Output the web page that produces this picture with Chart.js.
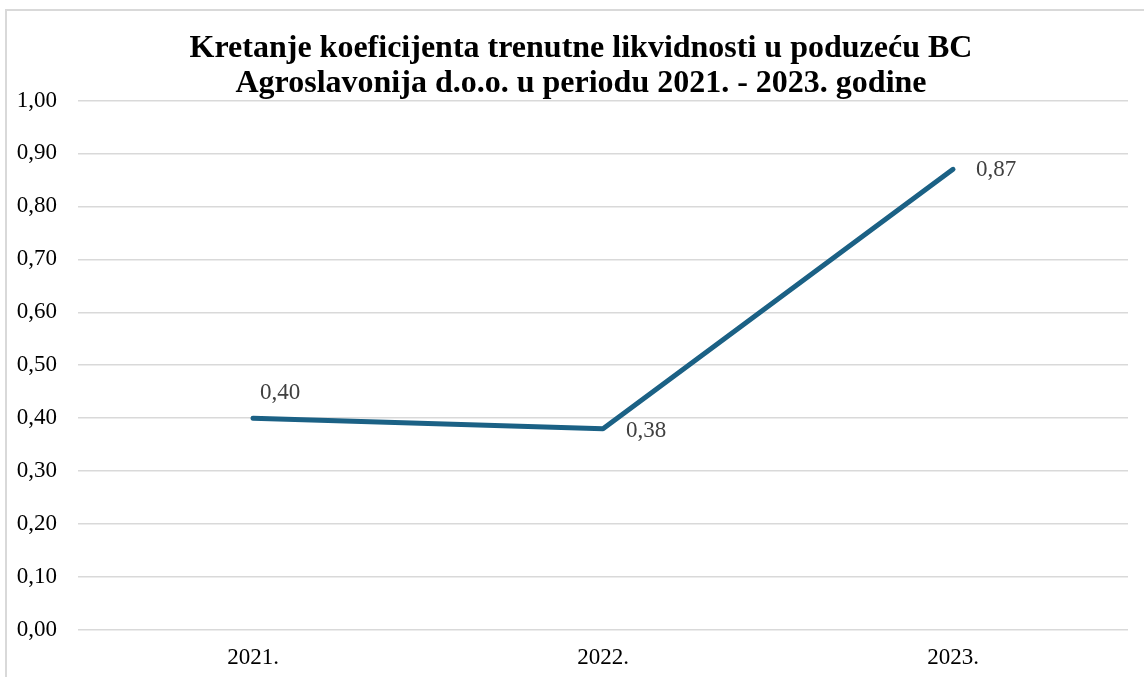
<!DOCTYPE html>
<html>
<head>
<meta charset="utf-8">
<script src="https://cdn.jsdelivr.net/npm/chart.js@4.4.0/dist/chart.umd.min.js"></script>
<style>
  html, body { margin: 0; padding: 0; background: #fff; overflow: hidden; }
  #wrap { position: relative; width: 1144px; height: 677px; overflow: hidden; }
</style>
</head>
<body>
<div id="wrap"><canvas id="myChart" width="1150" height="677"></canvas></div>
<script>
const years = ["2021.", "2022.", "2023."];
const ratio = [0.40, 0.38, 0.87];
const titleLines = [
  "Kretanje koeficijenta trenutne likvidnosti u poduzeću BC",
  "Agroslavonija d.o.o. u periodu 2021. - 2023. godine"
];

function fmt(v) {
  return (Math.round(v * 100) / 100).toFixed(2).replace(".", ",");
}

// where each value label sits relative to its point
const labelSpots = [
  { dx: 7, dy: -25 },
  { dx: 23, dy: 2 },
  { dx: 23, dy: 1 }
];

const serif = "'Liberation Serif', 'Times New Roman', serif";

const frame = {
  id: "frame",
  beforeDraw(chart) {
    const c = chart.ctx;
    c.save();
    c.strokeStyle = "#d9d9d9";
    c.lineWidth = 2;
    c.beginPath();
    c.moveTo(6, 677);
    c.lineTo(6, 10);
    c.lineTo(1150, 10);
    c.stroke();
    c.restore();
  }
};

const valueLabels = {
  id: "valueLabels",
  afterDatasetsDraw(chart) {
    const c = chart.ctx;
    const meta = chart.getDatasetMeta(0);
    c.save();
    c.font = "23px " + serif;
    c.fillStyle = "#404040";
    c.textAlign = "left";
    c.textBaseline = "middle";
    meta.data.forEach((pt, i) => {
      const s = labelSpots[i];
      c.fillText(fmt(ratio[i]), pt.x + s.dx, pt.y + s.dy);
    });
    c.restore();
  }
};

const ctx = document.getElementById("myChart").getContext("2d");
const chart = new Chart(ctx, {
  type: "line",
  data: {
    labels: years,
    datasets: [{
      data: ratio,
      borderColor: "#1b6185",
      backgroundColor: "#1b6185",
      borderWidth: 5,
      borderCapStyle: "round",
      borderJoinStyle: "round",
      tension: 0,
      pointRadius: 0,
      pointHoverRadius: 0
    }]
  },
  options: {
    responsive: false,
    animation: false,
    layout: { padding: { left: 15, right: 3, top: 0, bottom: 0 } },
    plugins: {
      legend: { display: false },
      tooltip: { enabled: false },
      title: {
        display: true,
        text: titleLines,
        color: "#000",
        font: { family: serif, size: 32, weight: "bold", lineHeight: 1.07 },
        padding: { top: 32, bottom: 0 }
      }
    },
    scales: {
      x: {
        offset: true,
        grid: { display: false, drawTicks: false },
        border: { display: false },
        ticks: {
          color: "#000",
          padding: 14,
          font: { family: serif, size: 23 }
        },
        afterFit(scale) { scale.height = 47; }
      },
      y: {
        min: 0,
        max: 1,
        grid: { color: "#d9d9d9", lineWidth: 1.5, drawTicks: false },
        border: { display: false },
        ticks: {
          stepSize: 0.1,
          color: "#000",
          padding: 21,
          font: { family: serif, size: 23 },
          callback: v => fmt(v)
        },
        afterFit(scale) { scale.width = 63; }
      },
      spacer: {
        type: "linear",
        position: "right",
        grid: { display: false, drawTicks: false },
        border: { display: false },
        ticks: { display: false },
        afterFit(scale) { scale.width = 19; }
      }
    }
  },
  plugins: [frame, valueLabels]
});
</script>
</body>
</html>
